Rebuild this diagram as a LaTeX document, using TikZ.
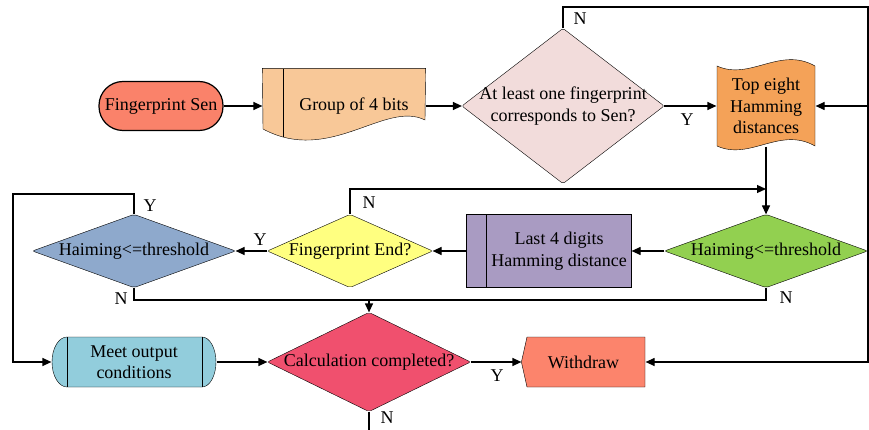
\documentclass[tikz,border=0pt]{standalone}
\usepackage{fontspec}
\setmainfont{Liberation Serif}
\usetikzlibrary{arrows.meta, backgrounds}

\definecolor{senc}{RGB}{250,130,106}
\definecolor{grpc}{RGB}{248,200,152}
\definecolor{diac}{RGB}{242,220,219}
\definecolor{tapec}{RGB}{244,162,88}
\definecolor{grnc}{RGB}{146,208,80}
\definecolor{lastc}{RGB}{169,155,194}
\definecolor{fendc}{RGB}{255,255,128}
\definecolor{bluec}{RGB}{142,169,204}
\definecolor{meetc}{RGB}{146,205,220}
\definecolor{calcc}{RGB}{240,80,110}
\definecolor{wdc}{RGB}{252,132,108}

\begin{document}
\begin{tikzpicture}[x=1pt, y=-1pt,
       line width=1.2pt,
       txt/.style = {font=\fontsize{18}{21.5}\selectfont, align=center, inner sep=0pt},
   box/.style 2 args = {txt, rectangle, minimum width=#1, minimum height=#2},
       arr/.style = {-{Triangle[length=9pt, width=8pt]}},
        yn/.style = {font=\fontsize{18}{21.5}\selectfont, inner sep=0pt}
                    ]
\useasboundingbox (0,0) rectangle (869,430);

\node (sen)  [txt, draw, fill=senc, rounded corners=24pt,
              minimum width=124pt, minimum height=49pt] at (161,106) {Fingerprint Sen};
\node (grp)  [box={162pt}{74pt}] at (344,106) {\hspace*{20pt}Group of 4 bits};
\node (dia1) [box={201pt}{154pt}] at (563,106) {At least one fingerprint\\corresponds to Sen?};
\node (tape) [box={98pt}{80pt}] at (766,106) {Top eight\\Hamming\\distances};
\node (grn)  [box={202pt}{72pt}] at (766,251) {Haiming<=threshold};
\node (last) [box={164pt}{72pt}] at (549,251) {\hspace*{20pt}Last 4 digits\\\hspace*{20pt}Hamming distance};
\node (fend) [box={164pt}{72pt}] at (350,251) {Fingerprint End?};
\node (blue) [box={202pt}{72pt}] at (134,251) {Haiming<=threshold};
\node (meet) [box={164pt}{50pt}] at (134,362) {Meet output\\conditions};
\node (calc) [box={202pt}{98pt}] at (369,362) {Calculation completed?};
\node (wd)   [box={123pt}{50pt}] at (583.5,362) {Withdraw};

\coordinate (ne)  at (868,7);
\coordinate (jn)  at (766,189);
\coordinate (lw)  at (13,194);
\coordinate (mrg) at (369,300);
\coordinate (bot) at (369,430);

% shapes behind the texts
\begin{scope}[on background layer]
\draw[fill=grpc] (grp.north west) -- (grp.north east) -- (425,120)
      .. controls (385,100) and (330,165) .. (263,129) -- cycle;
\draw (283,69) -- (283,137);
\draw[fill=diac, rounded corners=2pt] (dia1.north) -- (dia1.east) -- (dia1.south) -- (dia1.west) -- cycle;
\draw[fill=tapec] (717,66) .. controls +(33,15) and +(-35,-20) .. (815,66) -- (815,146)
      .. controls +(-35,-20) and +(33,15) .. (717,146) -- cycle;
\draw[fill=grnc, rounded corners=2pt] (grn.north) -- (grn.east) -- (grn.south) -- (grn.west) -- cycle;
\draw[fill=lastc] (last.north west) rectangle (last.south east);
\draw ([xshift=20pt]last.north west) -- ([xshift=20pt]last.south west);
\draw[fill=fendc, rounded corners=2pt] (fend.north) -- (fend.east) -- (fend.south) -- (fend.west) -- cycle;
\draw[fill=bluec, rounded corners=2pt] (blue.north) -- (blue.east) -- (blue.south) -- (blue.west) -- cycle;
\draw[fill=meetc] (67,337) -- (202,337) arc[start angle=90, end angle=-90, x radius=14pt, y radius=25pt]
      -- (67,387) arc[start angle=270, end angle=90, x radius=15pt, y radius=25pt] -- cycle;
\draw (67,337) -- (67,387);
\draw (202,337) -- (202,387);
\draw[fill=calcc, rounded corners=2pt] (calc.north) -- (calc.east) -- (calc.south) -- (calc.west) -- cycle;
\draw[fill=wdc] (527,337) -- (645,337) -- (645,387) -- (527,387) -- (wd.west) -- cycle;
\end{scope}

\draw[arr] (sen.east) -- (grp.west);
\draw[arr] (grp.east) -- (dia1.west);
\draw[arr] (dia1.east) -- (tape.west);
\draw[arr] (dia1.north) |- (ne) |- (wd.east);
\draw[arr] (ne |- tape.east) -- (tape.east);
\draw[arr] (tape.south) -- (grn.north);
\draw[arr] (fend.north) |- (jn);
\draw[arr] (grn.west) -- (last.east);
\draw[arr] (last.west) -- (fend.east);
\draw[arr] (fend.west) -- (blue.east);
\draw[arr] (blue.north) |- (lw) |- (meet.west);
\draw (blue.south) |- (mrg);
\draw (grn.south) |- (mrg);
\draw[arr] (mrg) -- (calc.north);
\draw[arr] (meet.east) -- (calc.west);
\draw[arr] (calc.east) -- (wd.west);
\draw (calc.south) -- (bot);

\node (n1) [yn] at (580,19)  {N};
\node (y1) [yn] at (687,120) {Y};
\node (y2) [yn] at (150,206) {Y};
\node (n2) [yn] at (369,203) {N};
\node (y3) [yn] at (260,240) {Y};
\node (n3) [yn] at (121,299) {N};
\node (n4) [yn] at (786,298) {N};
\node (y4) [yn] at (497,376) {Y};
\node (n5) [yn] at (387,418) {N};
\end{tikzpicture}
\end{document}
